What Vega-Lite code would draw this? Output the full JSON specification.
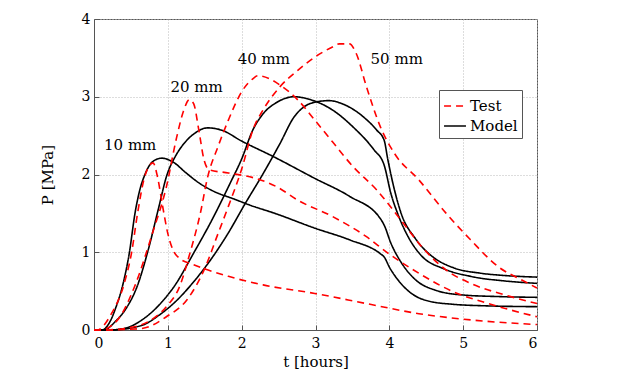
{
  "$schema": "https://vega.github.io/schema/vega-lite/v6.json",
  "width": 443,
  "height": 311,
  "autosize": {"type": "none"},
  "padding": {"left": 94, "top": 19, "right": 95, "bottom": 50},
  "background": "white",
  "config": {
    "font": "DejaVu Serif",
    "view": {"stroke": "#555", "strokeWidth": 1},
    "axis": {
      "labelFont": "DejaVu Serif",
      "labelFontSize": 14,
      "labelColor": "black",
      "titleFont": "DejaVu Serif",
      "titleFontSize": 15,
      "titleFontWeight": "normal",
      "titleColor": "black",
      "domainColor": "#555",
      "tickColor": "#555",
      "tickSize": -5,
      "gridColor": "#bbb",
      "gridDash": [1, 2],
      "gridWidth": 1
    }
  },
  "datasets": {
    "curves": [
      {"t":0.0,"P":0.0,"type":"Model","d":"10"},{"t":0.11,"P":0.0,"type":"Model","d":"10"},{"t":0.2,"P":0.08,"type":"Model","d":"10"},{"t":0.3,"P":0.3,"type":"Model","d":"10"},{"t":0.4,"P":0.62,"type":"Model","d":"10"},{"t":0.48,"P":1.0,"type":"Model","d":"10"},{"t":0.555,"P":1.5,"type":"Model","d":"10"},{"t":0.62,"P":1.8,"type":"Model","d":"10"},{"t":0.69,"P":2.0,"type":"Model","d":"10"},{"t":0.8,"P":2.17,"type":"Model","d":"10"},{"t":0.92,"P":2.21,"type":"Model","d":"10"},{"t":1.07,"P":2.16,"type":"Model","d":"10"},{"t":1.26,"P":2.01,"type":"Model","d":"10"},{"t":1.44,"P":1.88,"type":"Model","d":"10"},{"t":1.63,"P":1.78,"type":"Model","d":"10"},{"t":1.91,"P":1.68,"type":"Model","d":"10"},{"t":2.1,"P":1.61,"type":"Model","d":"10"},{"t":2.45,"P":1.5,"type":"Model","d":"10"},{"t":2.99,"P":1.31,"type":"Model","d":"10"},{"t":3.46,"P":1.16,"type":"Model","d":"10"},{"t":3.88,"P":0.98,"type":"Model","d":"10"},{"t":3.93,"P":0.94,"type":"Model","d":"10"},{"t":4.0,"P":0.81,"type":"Model","d":"10"},{"t":4.12,"P":0.64,"type":"Model","d":"10"},{"t":4.3,"P":0.47,"type":"Model","d":"10"},{"t":4.54,"P":0.37,"type":"Model","d":"10"},{"t":4.87,"P":0.33,"type":"Model","d":"10"},{"t":5.34,"P":0.31,"type":"Model","d":"10"},{"t":6.0,"P":0.3,"type":"Model","d":"10"},
      {"t":0.0,"P":0.0,"type":"Model","d":"20"},{"t":0.13,"P":0.0,"type":"Model","d":"20"},{"t":0.3,"P":0.12,"type":"Model","d":"20"},{"t":0.45,"P":0.3,"type":"Model","d":"20"},{"t":0.58,"P":0.55,"type":"Model","d":"20"},{"t":0.74,"P":1.05,"type":"Model","d":"20"},{"t":0.87,"P":1.55,"type":"Model","d":"20"},{"t":0.99,"P":2.0,"type":"Model","d":"20"},{"t":1.1,"P":2.23,"type":"Model","d":"20"},{"t":1.22,"P":2.4,"type":"Model","d":"20"},{"t":1.35,"P":2.52,"type":"Model","d":"20"},{"t":1.54,"P":2.6,"type":"Model","d":"20"},{"t":1.73,"P":2.57,"type":"Model","d":"20"},{"t":2.0,"P":2.43,"type":"Model","d":"20"},{"t":2.43,"P":2.23,"type":"Model","d":"20"},{"t":2.99,"P":1.95,"type":"Model","d":"20"},{"t":3.46,"P":1.72,"type":"Model","d":"20"},{"t":3.88,"P":1.43,"type":"Model","d":"20"},{"t":3.93,"P":1.35,"type":"Model","d":"20"},{"t":4.02,"P":1.12,"type":"Model","d":"20"},{"t":4.16,"P":0.87,"type":"Model","d":"20"},{"t":4.35,"P":0.65,"type":"Model","d":"20"},{"t":4.63,"P":0.51,"type":"Model","d":"20"},{"t":5.0,"P":0.45,"type":"Model","d":"20"},{"t":5.48,"P":0.43,"type":"Model","d":"20"},{"t":6.0,"P":0.42,"type":"Model","d":"20"},
      {"t":0.0,"P":0.0,"type":"Model","d":"40"},{"t":0.18,"P":0.0,"type":"Model","d":"40"},{"t":0.41,"P":0.02,"type":"Model","d":"40"},{"t":0.65,"P":0.13,"type":"Model","d":"40"},{"t":0.88,"P":0.32,"type":"Model","d":"40"},{"t":1.1,"P":0.58,"type":"Model","d":"40"},{"t":1.35,"P":0.99,"type":"Model","d":"40"},{"t":1.6,"P":1.42,"type":"Model","d":"40"},{"t":1.85,"P":1.9,"type":"Model","d":"40"},{"t":2.0,"P":2.2,"type":"Model","d":"40"},{"t":2.15,"P":2.57,"type":"Model","d":"40"},{"t":2.29,"P":2.78,"type":"Model","d":"40"},{"t":2.48,"P":2.93,"type":"Model","d":"40"},{"t":2.71,"P":3.0,"type":"Model","d":"40"},{"t":2.94,"P":2.96,"type":"Model","d":"40"},{"t":3.23,"P":2.83,"type":"Model","d":"40"},{"t":3.51,"P":2.61,"type":"Model","d":"40"},{"t":3.79,"P":2.32,"type":"Model","d":"40"},{"t":3.93,"P":2.12,"type":"Model","d":"40"},{"t":4.02,"P":1.76,"type":"Model","d":"40"},{"t":4.12,"P":1.48,"type":"Model","d":"40"},{"t":4.26,"P":1.19,"type":"Model","d":"40"},{"t":4.44,"P":0.95,"type":"Model","d":"40"},{"t":4.73,"P":0.79,"type":"Model","d":"40"},{"t":5.1,"P":0.69,"type":"Model","d":"40"},{"t":5.57,"P":0.63,"type":"Model","d":"40"},{"t":6.0,"P":0.6,"type":"Model","d":"40"},
      {"t":0.0,"P":0.0,"type":"Model","d":"50"},{"t":0.23,"P":0.0,"type":"Model","d":"50"},{"t":0.65,"P":0.06,"type":"Model","d":"50"},{"t":0.88,"P":0.19,"type":"Model","d":"50"},{"t":1.12,"P":0.38,"type":"Model","d":"50"},{"t":1.35,"P":0.62,"type":"Model","d":"50"},{"t":1.6,"P":0.93,"type":"Model","d":"50"},{"t":1.82,"P":1.25,"type":"Model","d":"50"},{"t":2.05,"P":1.63,"type":"Model","d":"50"},{"t":2.29,"P":2.01,"type":"Model","d":"50"},{"t":2.52,"P":2.4,"type":"Model","d":"50"},{"t":2.71,"P":2.74,"type":"Model","d":"50"},{"t":2.83,"P":2.86,"type":"Model","d":"50"},{"t":2.99,"P":2.93,"type":"Model","d":"50"},{"t":3.18,"P":2.95,"type":"Model","d":"50"},{"t":3.41,"P":2.89,"type":"Model","d":"50"},{"t":3.65,"P":2.74,"type":"Model","d":"50"},{"t":3.83,"P":2.57,"type":"Model","d":"50"},{"t":3.93,"P":2.44,"type":"Model","d":"50"},{"t":3.98,"P":2.19,"type":"Model","d":"50"},{"t":4.07,"P":1.8,"type":"Model","d":"50"},{"t":4.16,"P":1.5,"type":"Model","d":"50"},{"t":4.35,"P":1.18,"type":"Model","d":"50"},{"t":4.59,"P":0.94,"type":"Model","d":"50"},{"t":4.87,"P":0.8,"type":"Model","d":"50"},{"t":5.24,"P":0.73,"type":"Model","d":"50"},{"t":5.57,"P":0.7,"type":"Model","d":"50"},{"t":6.0,"P":0.68,"type":"Model","d":"50"},
      {"t":0.0,"P":0.0,"type":"Test","d":"10"},{"t":0.04,"P":0.0,"type":"Test","d":"10"},{"t":0.23,"P":0.2,"type":"Test","d":"10"},{"t":0.41,"P":0.6,"type":"Test","d":"10"},{"t":0.51,"P":1.0,"type":"Test","d":"10"},{"t":0.59,"P":1.5,"type":"Test","d":"10"},{"t":0.68,"P":1.95,"type":"Test","d":"10"},{"t":0.74,"P":2.1,"type":"Test","d":"10"},{"t":0.8,"P":2.15,"type":"Test","d":"10"},{"t":0.86,"P":1.97,"type":"Test","d":"10"},{"t":0.93,"P":1.59,"type":"Test","d":"10"},{"t":1.0,"P":1.24,"type":"Test","d":"10"},{"t":1.07,"P":1.03,"type":"Test","d":"10"},{"t":1.16,"P":0.92,"type":"Test","d":"10"},{"t":1.35,"P":0.84,"type":"Test","d":"10"},{"t":1.82,"P":0.69,"type":"Test","d":"10"},{"t":2.29,"P":0.58,"type":"Test","d":"10"},{"t":2.99,"P":0.47,"type":"Test","d":"10"},{"t":3.69,"P":0.34,"type":"Test","d":"10"},{"t":4.4,"P":0.21,"type":"Test","d":"10"},{"t":5.1,"P":0.13,"type":"Test","d":"10"},{"t":6.0,"P":0.07,"type":"Test","d":"10"},
      {"t":0.0,"P":0.0,"type":"Test","d":"20"},{"t":0.08,"P":0.0,"type":"Test","d":"20"},{"t":0.32,"P":0.13,"type":"Test","d":"20"},{"t":0.55,"P":0.56,"type":"Test","d":"20"},{"t":0.79,"P":1.24,"type":"Test","d":"20"},{"t":0.98,"P":1.84,"type":"Test","d":"20"},{"t":1.12,"P":2.48,"type":"Test","d":"20"},{"t":1.21,"P":2.81,"type":"Test","d":"20"},{"t":1.29,"P":2.96,"type":"Test","d":"20"},{"t":1.35,"P":2.91,"type":"Test","d":"20"},{"t":1.42,"P":2.57,"type":"Test","d":"20"},{"t":1.49,"P":2.19,"type":"Test","d":"20"},{"t":1.56,"P":2.06,"type":"Test","d":"20"},{"t":1.82,"P":2.02,"type":"Test","d":"20"},{"t":2.19,"P":1.95,"type":"Test","d":"20"},{"t":2.48,"P":1.84,"type":"Test","d":"20"},{"t":2.76,"P":1.67,"type":"Test","d":"20"},{"t":3.23,"P":1.46,"type":"Test","d":"20"},{"t":3.69,"P":1.2,"type":"Test","d":"20"},{"t":3.98,"P":0.99,"type":"Test","d":"20"},{"t":4.4,"P":0.73,"type":"Test","d":"20"},{"t":4.87,"P":0.49,"type":"Test","d":"20"},{"t":5.34,"P":0.34,"type":"Test","d":"20"},{"t":6.0,"P":0.17,"type":"Test","d":"20"},
      {"t":0.0,"P":0.0,"type":"Test","d":"40"},{"t":0.1,"P":0.0,"type":"Test","d":"40"},{"t":0.41,"P":0.02,"type":"Test","d":"40"},{"t":0.74,"P":0.11,"type":"Test","d":"40"},{"t":0.98,"P":0.3,"type":"Test","d":"40"},{"t":1.16,"P":0.56,"type":"Test","d":"40"},{"t":1.3,"P":0.99,"type":"Test","d":"40"},{"t":1.44,"P":1.5,"type":"Test","d":"40"},{"t":1.54,"P":1.97,"type":"Test","d":"40"},{"t":1.68,"P":2.36,"type":"Test","d":"40"},{"t":1.82,"P":2.7,"type":"Test","d":"40"},{"t":2.01,"P":3.08,"type":"Test","d":"40"},{"t":2.15,"P":3.23,"type":"Test","d":"40"},{"t":2.22,"P":3.27,"type":"Test","d":"40"},{"t":2.38,"P":3.23,"type":"Test","d":"40"},{"t":2.52,"P":3.15,"type":"Test","d":"40"},{"t":2.76,"P":2.96,"type":"Test","d":"40"},{"t":2.99,"P":2.7,"type":"Test","d":"40"},{"t":3.23,"P":2.42,"type":"Test","d":"40"},{"t":3.51,"P":2.1,"type":"Test","d":"40"},{"t":3.83,"P":1.8,"type":"Test","d":"40"},{"t":4.16,"P":1.41,"type":"Test","d":"40"},{"t":4.44,"P":1.07,"type":"Test","d":"40"},{"t":4.77,"P":0.77,"type":"Test","d":"40"},{"t":5.1,"P":0.6,"type":"Test","d":"40"},{"t":5.57,"P":0.45,"type":"Test","d":"40"},{"t":6.0,"P":0.34,"type":"Test","d":"40"},
      {"t":0.0,"P":0.0,"type":"Test","d":"50"},{"t":0.15,"P":0.0,"type":"Test","d":"50"},{"t":0.65,"P":0.02,"type":"Test","d":"50"},{"t":0.98,"P":0.17,"type":"Test","d":"50"},{"t":1.26,"P":0.39,"type":"Test","d":"50"},{"t":1.49,"P":0.77,"type":"Test","d":"50"},{"t":1.68,"P":1.24,"type":"Test","d":"50"},{"t":1.82,"P":1.59,"type":"Test","d":"50"},{"t":2.01,"P":2.1,"type":"Test","d":"50"},{"t":2.15,"P":2.57,"type":"Test","d":"50"},{"t":2.29,"P":2.83,"type":"Test","d":"50"},{"t":2.52,"P":3.13,"type":"Test","d":"50"},{"t":2.76,"P":3.34,"type":"Test","d":"50"},{"t":2.99,"P":3.51,"type":"Test","d":"50"},{"t":3.23,"P":3.64,"type":"Test","d":"50"},{"t":3.32,"P":3.68,"type":"Test","d":"50"},{"t":3.46,"P":3.68,"type":"Test","d":"50"},{"t":3.55,"P":3.56,"type":"Test","d":"50"},{"t":3.69,"P":3.13,"type":"Test","d":"50"},{"t":3.88,"P":2.61,"type":"Test","d":"50"},{"t":4.07,"P":2.27,"type":"Test","d":"50"},{"t":4.4,"P":1.93,"type":"Test","d":"50"},{"t":4.77,"P":1.5,"type":"Test","d":"50"},{"t":5.1,"P":1.16,"type":"Test","d":"50"},{"t":5.48,"P":0.81,"type":"Test","d":"50"},{"t":5.8,"P":0.64,"type":"Test","d":"50"},{"t":6.0,"P":0.54,"type":"Test","d":"50"}
    ],
    "labels": [
      {"t":0.49,"P":2.38,"label":"10 mm"},
      {"t":1.39,"P":3.12,"label":"20 mm"},
      {"t":2.3,"P":3.49,"label":"40 mm"},
      {"t":4.1,"P":3.49,"label":"50 mm"}
    ]
  },
  "layer": [
    {
      "data": {"name": "curves"},
      "mark": {"type": "line", "strokeWidth": 1.6, "interpolate": "monotone"},
      "encoding": {
        "x": {"field": "t", "type": "quantitative", "scale": {"domain": [0, 6], "nice": false},
              "axis": {"title": "t [hours]", "values": [0,1,2,3,4,5,6], "format": "~g", "labelPadding": 11, "titlePadding": 4}},
        "y": {"field": "P", "type": "quantitative", "scale": {"domain": [0, 4], "nice": false},
              "axis": {"title": "P [MPa]", "values": [0,0.5,1,1.5,2,2.5,3,3.5,4], "format": "~g", "labelPadding": 9, "titlePadding": 26}},
        "color": {"field": "type", "type": "nominal", "scale": {"domain": ["Test", "Model"], "range": ["#ff0000", "#000000"]},
                  "legend": {"title": null, "orient": "none", "legendX": 345, "legendY": 71, "symbolType": "stroke", "symbolSize": 480,
                             "symbolStrokeWidth": 1.6, "labelFont": "DejaVu Serif", "labelFontSize": 15, "labelColor": "black",
                             "strokeColor": "#555", "fillColor": "white", "padding": 4, "rowPadding": 0, "labelOffset": 3}},
        "strokeDash": {"field": "type", "type": "nominal", "scale": {"domain": ["Test", "Model"], "range": [[7, 5], [1, 0]]},
                       "legend": {"title": null, "orient": "none", "legendX": 345, "legendY": 71, "symbolType": "stroke", "symbolSize": 480,
                             "symbolStrokeWidth": 1.6, "labelFont": "DejaVu Serif", "labelFontSize": 15, "labelColor": "black",
                             "strokeColor": "#555", "fillColor": "white", "padding": 4, "rowPadding": 0, "labelOffset": 3}},
        "detail": {"field": "d", "type": "nominal"},
        "order": {"field": "t", "type": "quantitative"}
      }
    },
    {
      "data": {"name": "labels"},
      "mark": {"type": "text", "font": "DejaVu Serif", "fontSize": 15, "color": "black", "align": "center", "baseline": "middle"},
      "encoding": {
        "x": {"field": "t", "type": "quantitative"},
        "y": {"field": "P", "type": "quantitative"},
        "text": {"field": "label"}
      }
    }
  ]
}
